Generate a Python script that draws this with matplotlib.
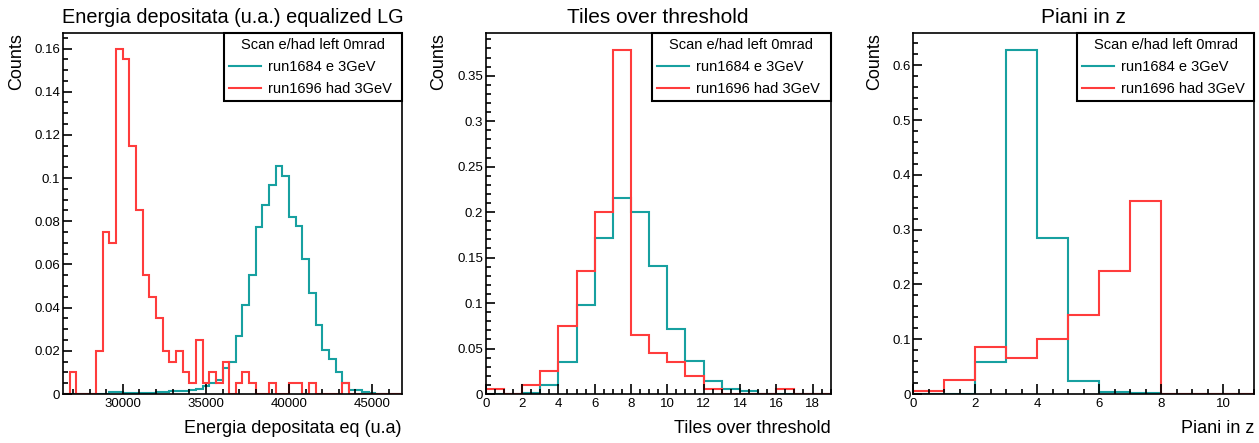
import numpy as np
import matplotlib
matplotlib.use('Agg')
import matplotlib.pyplot as plt
from matplotlib.lines import Line2D
from matplotlib.ticker import MultipleLocator, FuncFormatter

# Energia depositata: 51 bins of 400 from 26400 to 46800
energy_lo = 26400
energy_hi = 46800
energy_width = 400
energy_e = [0, 0, 0, 0, 0, 0, 0, 0.001, 0.001, 0.0005,
            0.0005, 0.0005, 0.0005, 0.0005, 0.0008, 0.0008, 0.0012, 0.0012, 0.0012, 0.0017,
            0.0025, 0.0035, 0.005, 0.0066, 0.012, 0.015, 0.027, 0.041, 0.055, 0.0775,
            0.0876, 0.097, 0.1057, 0.101, 0.082, 0.078, 0.0624, 0.047, 0.032, 0.0205,
            0.016, 0.01, 0.005, 0.002, 0.0017, 0.001, 0.0003, 0, 0, 0,
            0]
energy_had = [0, 0.01, 0, 0, 0, 0.02, 0.075, 0.07, 0.16, 0.155,
              0.115, 0.085, 0.055, 0.045, 0.035, 0.02, 0.015, 0.02, 0.01, 0.005,
              0.025, 0.005, 0.01, 0.005, 0.015, 0, 0.005, 0.01, 0.005, 0,
              0, 0.005, 0, 0, 0.005, 0.005, 0, 0.005, 0, 0,
              0, 0, 0.005, 0, 0, 0, 0, 0, 0, 0,
              0]

# Tiles over threshold: bins of 1 from 0 to 19
tiles_e = [0, 0, 0.001, 0.01, 0.035, 0.098, 0.172, 0.216, 0.2, 0.141,
           0.072, 0.036, 0.014, 0.005, 0.003, 0.0005, 0, 0, 0]
tiles_had = [0.005, 0, 0.01, 0.025, 0.075, 0.135, 0.2, 0.378, 0.065, 0.045,
             0.035, 0.02, 0.005, 0, 0, 0, 0.005, 0, 0]

# Piani in z: bins of 1 from 0 to 11
piani_e = [0, 0, 0.058, 0.628, 0.285, 0.023, 0.003, 0.001, 0, 0, 0]
piani_had = [0.005, 0.025, 0.085, 0.065, 0.1, 0.145, 0.224, 0.353, 0, 0, 0]

legend_title = 'Scan e/had left 0mrad'
label_e = 'run1684 e 3GeV'
label_had = 'run1696 had 3GeV'
col_e = '#17a0a0'
col_had = '#ff3c3c'

plt.rcParams['font.family'] = ['Liberation Sans', 'DejaVu Sans']

fig = plt.figure(figsize=(12.59, 4.43), dpi=100)

panels = [
    dict(rect=[0.0500, 0.1106, 0.2693, 0.815],
         edges=np.arange(energy_lo, energy_hi + 1, energy_width), e=energy_e, had=energy_had,
         title='Energia depositata (u.a.) equalized LG', xlabel='Energia depositata eq (u.a)',
         xlim=(energy_lo, energy_hi), ylim=0.1672, xmaj=5000, xmin=1000, ymaj=0.02, ymin=0.005,
         leg_x=0.475, ylab_x=-0.112, tsize=14.3),
    dict(rect=[0.3858, 0.1106, 0.2740, 0.815],
         edges=np.arange(0, len(tiles_e) + 1), e=tiles_e, had=tiles_had,
         title='Tiles over threshold', xlabel='Tiles over threshold',
         xlim=(0, 19), ylim=0.397, xmaj=2, xmin=0.5, ymaj=0.05, ymin=0.01,
         leg_x=0.482, ylab_x=-0.112, tsize=15),
    dict(rect=[0.7254, 0.1106, 0.2709, 0.815],
         edges=np.arange(0, len(piani_e) + 1), e=piani_e, had=piani_had,
         title='Piani in z', xlabel='Piani in z',
         xlim=(0, 11), ylim=0.659, xmaj=2, xmin=0.5, ymaj=0.1, ymin=0.02,
         leg_x=0.48, ylab_x=-0.089, tsize=15),
]

fmt = FuncFormatter(lambda v, pos: '%g' % round(v, 6))

for p in panels:
    ax = fig.add_axes(p['rect'])
    ax.stairs(p['e'], p['edges'], color=col_e, linewidth=1.5, baseline=0)
    ax.stairs(p['had'], p['edges'], color=col_had, linewidth=1.5, baseline=0)
    ax.set_xlim(*p['xlim'])
    ax.set_ylim(0, p['ylim'])

    ax.xaxis.set_major_locator(MultipleLocator(p['xmaj']))
    ax.xaxis.set_minor_locator(MultipleLocator(p['xmin']))
    ax.yaxis.set_major_locator(MultipleLocator(p['ymaj']))
    ax.yaxis.set_minor_locator(MultipleLocator(p['ymin']))
    ax.xaxis.set_major_formatter(fmt)
    ax.yaxis.set_major_formatter(fmt)
    ax.tick_params(which='both', direction='in', top=False, right=False,
                   labelsize=9.5, color='black', width=1.2)
    ax.tick_params(axis='x', which='major', length=7.5, pad=3)
    ax.tick_params(axis='x', which='minor', length=3.8)
    ax.tick_params(axis='y', which='major', length=6.5, pad=2)
    ax.tick_params(axis='y', which='minor', length=3.3)
    for s in ax.spines.values():
        s.set_linewidth(1.2)

    ax.set_title(p['title'], fontsize=p['tsize'], pad=7)
    ax.set_xlabel(p['xlabel'], fontsize=13, loc='right')
    ax.xaxis.set_label_coords(1.0, -0.072)
    ax.set_ylabel('Counts', fontsize=13, loc='top')
    ax.yaxis.set_label_coords(p['ylab_x'], 1.0)

    handles = [Line2D([], [], color=col_e, linewidth=1.5),
               Line2D([], [], color=col_had, linewidth=1.5)]
    leg = ax.legend(handles, [label_e, label_had], title=legend_title,
                    loc='upper left', bbox_to_anchor=(p['leg_x'], 0, 1 - p['leg_x'], 1),
                    mode='expand', borderaxespad=0, fancybox=False, framealpha=1,
                    edgecolor='black', fontsize=10.5, title_fontsize=10.5,
                    handlelength=2.2, handletextpad=0.5, borderpad=0.35, labelspacing=0.55)
    leg.get_frame().set_linewidth(1.5)

fig.savefig('out.png', dpi=100)
